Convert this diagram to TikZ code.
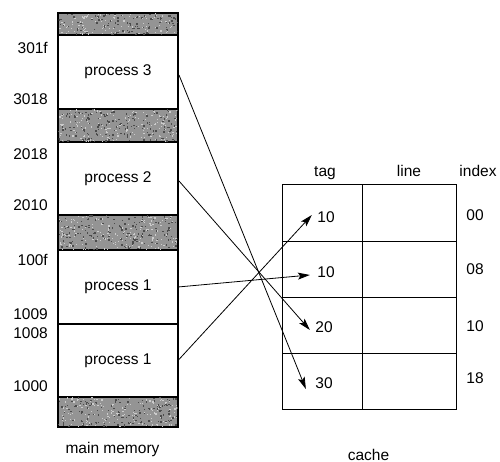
\documentclass[tikz,border=0pt]{standalone}
\usepackage{fontspec}
\setmainfont{Liberation Sans}
\usetikzlibrary{arrows.meta,calc}
\begin{document}
\begin{tikzpicture}[x=1pt,y=-1pt,
  every node/.style={font=\fontsize{15.5}{18}\selectfont},
  seg/.style={draw, line width=1.2pt, minimum width=120pt, inner sep=0pt, outer sep=0pt, anchor=north},
  free/.style={seg, fill=white},
  used/.style={seg, fill=black!42},
  cell/.style={draw, line width=1pt, minimum height=56pt, inner sep=0pt, outer sep=0pt},
  tagcell/.style={cell, minimum width=80pt},
  linecell/.style={cell, minimum width=94pt},
  addr/.style={anchor=east, inner sep=0pt},
  head/.style={anchor=base, inner sep=0pt},
  map/.style={line width=0.8pt, -{Stealth[length=12pt,width=7pt,inset=2.5pt]}},
]
\useasboundingbox (0,0) rectangle (500,462);

% main memory column
\node[used, minimum height=22pt] (g4) at (118,13) {};
\node[free, minimum height=74pt] (p3) at (118,35) {process 3};
\node[used, minimum height=33pt] (g3) at (118,109) {};
\node[free, minimum height=73pt] (p2) at (118,142) {process 2};
\node[used, minimum height=35pt] (g2) at (118,215) {};
\node[free, minimum height=74pt] (p1a) at (118,250) {process 1};
\node[free, minimum height=73pt] (p1b) at (118,324) {process 1};
\node[used, minimum height=30pt] (g1) at (118,397) {};

% grainy texture on the occupied bands
\pgfmathsetseed{4217}
\foreach \b/\h/\n in {g4/22/110, g3/33/160, g2/35/170, g1/30/150} {
  \begin{scope}
    \clip ([shift={(0.6,0.6)}]\b.north west) rectangle ([shift={(-0.6,-0.6)}]\b.south east);
    \foreach \i in {1,...,\n} {
      \fill[black!70] ($(\b.north west)+(rnd*120,rnd*\h)$) rectangle +(1.4,1.4);
      \fill[black!20] ($(\b.north west)+(rnd*120,rnd*\h)$) rectangle +(1.2,1.2);
    }
  \end{scope}
}

% addresses
\node[addr] (a1) at (48,47.5) {301f};
\node[addr] (a2) at (48,99) {3018};
\node[addr] (a3) at (48,154) {2018};
\node[addr] (a4) at (48,205) {2010};
\node[addr] (a5) at (48,260) {100f};
\node[addr] (a6) at (48,314) {1009};
\node[addr] (a7) at (48,333) {1008};
\node[addr] (a8) at (48,386) {1000};
\node[head] (mm) at (112.5,453) {main memory};

% cache
\node[tagcell] (t1) at (322,213) {};
\node[tagcell] (t2) at (322,269) {};
\node[tagcell] (t3) at (322,325) {};
\node[tagcell] (t4) at (322,381) {};
\node[linecell] (l1) at (409,213) {};
\node[linecell] (l2) at (409,269) {};
\node[linecell] (l3) at (409,325) {};
\node[linecell] (l4) at (409,381) {};

\node[head] (htag) at (325,177) {tag};
\node[head] (hline) at (409,177) {line};
\node[head] (hidx) at (478,177) {index};

\node (v1) at (326,217.5) {10};
\node (v2) at (326,272.5) {10};
\node (v3) at (324,327.5) {20};
\node (v4) at (324,383) {30};

\node (i1) at (475,215) {00};
\node (i2) at (475,269) {08};
\node (i3) at (475,326) {10};
\node (i4) at (475,378.5) {18};

\node[head] (cc) at (368.5,460) {cache};

% mapping of memory blocks into cache lines
\draw[map] ([shift={(1,3)}]p3.east) -- ([shift={(-6,6)}]v4.west);
\draw[map] ([shift={(1,2.5)}]p2.east) -- ([shift={(-2,2.5)}]v3.west);
\draw[map] (p1a.east) -- ([shift={(-4,2.5)}]v2.west);
\draw[map] (p1b.east) -- ([shift={(-2,-2.5)}]v1.west);
\end{tikzpicture}
\end{document}
